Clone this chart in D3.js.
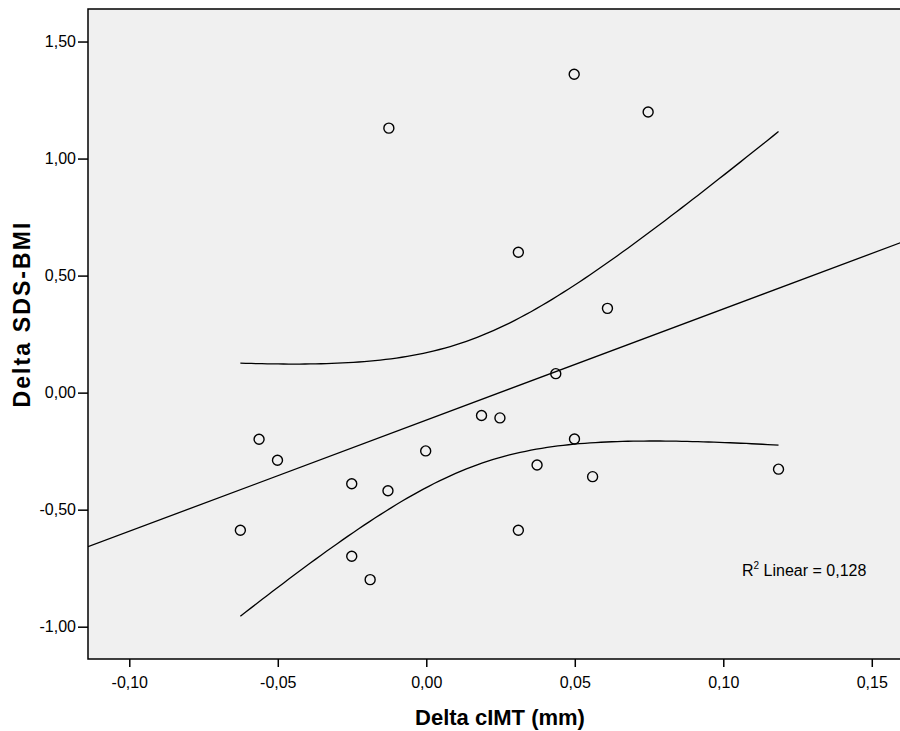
<!DOCTYPE html>
<html><head><meta charset="utf-8">
<script src="https://cdn.jsdelivr.net/npm/d3@7"></script>
<style>body{margin:0;background:#fff}svg{display:block}</style>
</head><body>
<svg id="c" width="900" height="731"></svg>
<script>
const xVals = [0.0498, 0.0747, -0.0126, 0.0310, 0.0610, 0.0436, 0.0186, 0.0248, -0.0002, -0.0563, -0.0501, 0.0499, 0.0373, 0.0560, 0.1186, -0.0251, -0.0129, -0.0626, 0.0310, -0.0251, -0.0189];
const yVals = [1.360, 1.199, 1.130, 0.600, 0.360, 0.081, -0.098, -0.108, -0.249, -0.199, -0.289, -0.198, -0.309, -0.359, -0.327, -0.389, -0.419, -0.588, -0.588, -0.699, -0.799];
const xTicks = [-0.10, -0.05, 0.00, 0.05, 0.10, 0.15];
const yTicks = [-1.00, -0.50, 0.00, 0.50, 1.00, 1.50];
const r2Label = "0,128";

const FONT = "Liberation Sans, Arial, sans-serif";
const svg = d3.select("#c");
const L = 88, T = 9, B = 659;
const x = d3.scaleLinear().domain([-0.1139, 0.1613]).range([L, L + (0.1613 + 0.1139) * 2970]);
const y = d3.scaleLinear().domain([-1.138, 1.639]).range([B, T]);
const fmt = d => d3.format(".2f")(d).replace(".", ",").replace("−", "-");

svg.append("rect").attr("x", L).attr("y", T).attr("width", 900 - L + 10).attr("height", B - T)
  .attr("fill", "#f0f0f0").attr("stroke", "#000").attr("stroke-width", 1.5);

const gx = svg.append("g").attr("transform", `translate(0,${B})`)
  .call(d3.axisBottom(x).tickValues(xTicks).tickFormat(fmt).tickSize(8).tickSizeOuter(0));
gx.select(".domain").remove();
gx.selectAll("line").attr("stroke", "#000").attr("stroke-width", 1.5);
gx.selectAll("text").attr("font-family", FONT).attr("font-size", 16).attr("fill", "#000").attr("dy", "1.1em");

const gy = svg.append("g").attr("transform", `translate(${L},0)`)
  .call(d3.axisLeft(y).tickValues(yTicks).tickFormat(fmt).tickSize(10).tickSizeOuter(0));
gy.select(".domain").remove();
gy.selectAll("line").attr("stroke", "#000").attr("stroke-width", 1.5);
gy.selectAll("text").attr("font-family", FONT).attr("font-size", 16).attr("fill", "#000").attr("x", -12);

// regression
const n = xVals.length;
const mx = d3.mean(xVals), my = d3.mean(yVals);
let sxx = 0, sxy = 0;
for (let i = 0; i < n; i++) { sxx += (xVals[i]-mx)**2; sxy += (xVals[i]-mx)*(yVals[i]-my); }
const b = sxy / sxx, a = my - b * mx;
let sse = 0;
for (let i = 0; i < n; i++) sse += (yVals[i] - a - b*xVals[i])**2;
const s = Math.sqrt(sse / (n - 2));
const tcrit = 2.093;

svg.append("clipPath").attr("id", "clp").append("rect").attr("x", L).attr("y", T).attr("width", 900 - L).attr("height", B - T);
const plot = svg.append("g").attr("clip-path", "url(#clp)");

const xd = x.domain();
const line = d3.line().x(d => x(d[0])).y(d => y(d[1]));
plot.append("path").datum([[xd[0], a + b*xd[0]], [xd[1], a + b*xd[1]]])
  .attr("d", line).attr("fill", "none").attr("stroke", "#000").attr("stroke-width", 1.3);

const xmin = d3.min(xVals), xmax = d3.max(xVals);
const grid = d3.range(0, 101).map(i => xmin + (xmax - xmin) * i / 100);
const half = xv => tcrit * s * Math.sqrt(1/n + (xv - mx)**2 / sxx);
plot.append("path").datum(grid.map(v => [v, a + b*v + half(v)]))
  .attr("d", line).attr("fill", "none").attr("stroke", "#000").attr("stroke-width", 1.3);
plot.append("path").datum(grid.map(v => [v, a + b*v - half(v)]))
  .attr("d", line).attr("fill", "none").attr("stroke", "#000").attr("stroke-width", 1.3);

plot.selectAll("circle.pt").data(xVals.map((v, i) => [v, yVals[i]])).join("circle")
  .attr("class", "pt").attr("cx", d => x(d[0])).attr("cy", d => y(d[1])).attr("r", 5)
  .attr("fill", "none").attr("stroke", "#000").attr("stroke-width", 1.4);

const rt = svg.append("text").attr("x", 742).attr("y", 576).attr("font-family", FONT).attr("font-size", 16).attr("fill", "#000");
rt.append("tspan").text("R");
rt.append("tspan").attr("font-size", 10).attr("dy", -7).text("2");
rt.append("tspan").attr("dy", 7).text(" Linear = " + r2Label);

svg.append("text").attr("x", 500).attr("y", 725).attr("text-anchor", "middle")
  .attr("font-family", FONT).attr("font-weight", "bold").attr("font-size", 22).text("Delta cIMT (mm)");
svg.append("text").attr("transform", `translate(30,315) rotate(-90)`).attr("text-anchor", "middle")
  .attr("font-family", FONT).attr("font-weight", "bold").attr("font-size", 23)
  .attr("textLength", 185).attr("lengthAdjust", "spacing").text("Delta SDS-BMI");
</script>
</body></html>
